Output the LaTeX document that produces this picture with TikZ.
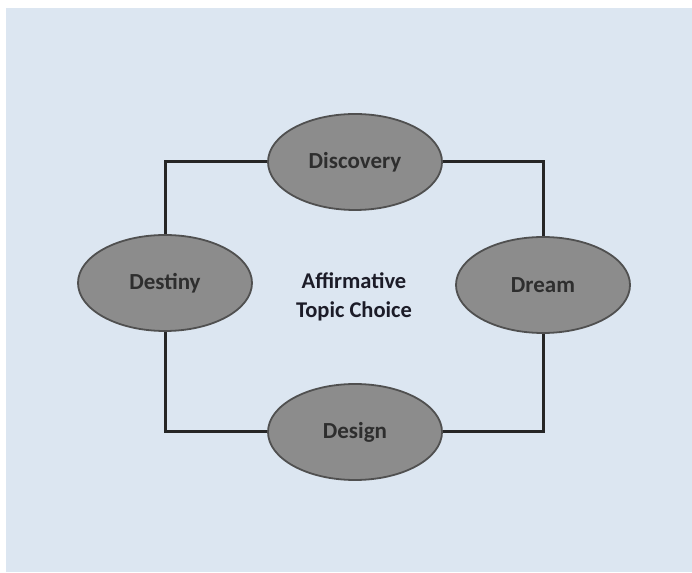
\documentclass[tikz,border=0pt]{standalone}
\usepackage{fontspec}
\setmainfont{Carlito}
\usetikzlibrary{shapes.geometric}
\pgfdeclarelayer{paper}
\pgfdeclarelayer{wires}
\pgfsetlayers{paper,wires,main}
\definecolor{bgblue}{HTML}{DCE6F1}
\definecolor{ovalfill}{HTML}{8C8C8C}
\definecolor{ovaldraw}{HTML}{505050}
\definecolor{ovaltext}{HTML}{2E2E2E}
\definecolor{centertext}{HTML}{1C1C28}
\tikzset{
  oval/.style={ellipse, draw=ovaldraw, line width=1.8pt, fill=ovalfill,
    minimum width=174pt, minimum height=96pt, inner sep=0pt,
    font=\fontsize{23}{27}\selectfont\bfseries, text=ovaltext},
  link/.style={draw=black!85, line width=3pt},
}
\begin{document}
\begin{tikzpicture}[x=1pt,y=1pt]
\useasboundingbox (0,0) rectangle (692,572);
\begin{pgfonlayer}{paper}
\fill[white] (0,0) rectangle (692,572);
\fill[bgblue] (6,0) rectangle (692,564);
\end{pgfonlayer}
\node[oval] (discovery) at (355,410) {Discovery};
\node[oval] (destiny) at (165,289) {Destiny};
\node[oval] (dream) at (543,287) {Dream};
\node[oval] (design) at (355,140) {Design};
\node[align=center, font=\fontsize{22.5}{29}\selectfont\bfseries, text=centertext] (topic) at (354,275) {Affirmative\\Topic Choice};
\begin{pgfonlayer}{wires}
\path[link] (destiny.center) |- (discovery.center);
\path[link] (discovery.center) -| (dream.center);
\path[link] (dream.center) |- (design.center);
\path[link] (design.center) -| (destiny.center);
\end{pgfonlayer}
\end{tikzpicture}
\end{document}
